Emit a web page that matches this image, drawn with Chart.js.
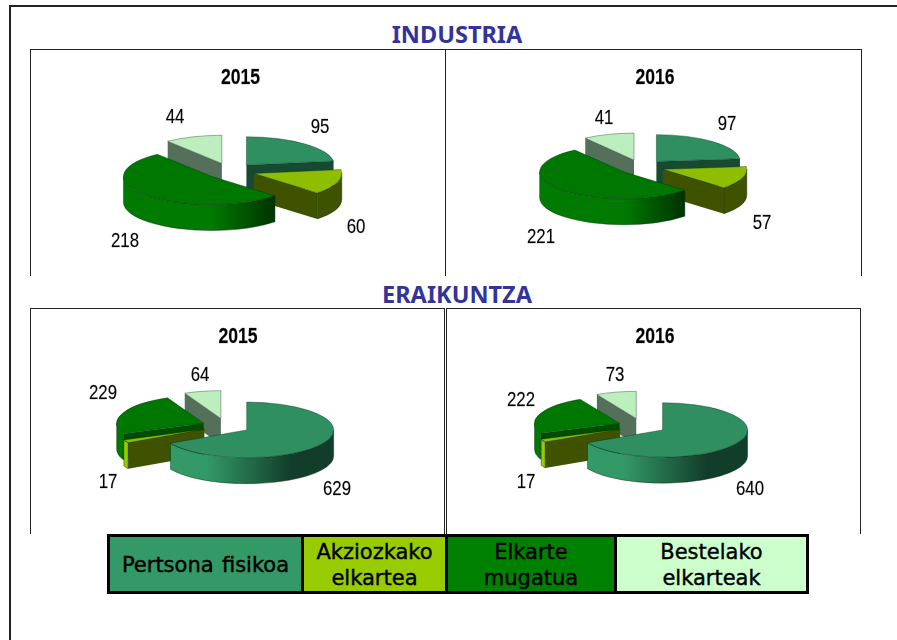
<!DOCTYPE html>
<html lang="eu">
  <head>
    <meta charset="UTF-8" />
    <title>Industria eta eraikuntza</title>
    <script src="https://cdn.jsdelivr.net/npm/chart.js@4.4.1/dist/chart.umd.min.js"></script>
    <style>
      html, body { margin: 0; padding: 0; background: #fff; }
      body { width: 897px; height: 640px; position: relative; overflow: hidden; }
      .frame { position: absolute; left: 9px; top: 5px; width: 900px; height: 700px; border: 2px solid #222; }
      .panel { position: absolute; border: 1px solid #222; border-bottom: 0; box-sizing: border-box; }
      .heading { position: absolute; left: 0; width: 914px; text-align: center; color: #333399; font: bold 23.5px "Noto Sans", sans-serif; line-height: 30px; }
      canvas { position: absolute; }
      table.legend { position: absolute; left: 107px; top: 534px; width: 699px; height: 58px; border-collapse: collapse; table-layout: fixed; }
      table.legend td { box-sizing: border-box; border: 3px solid #000; text-align: center; padding: 2px 0 0; font: 21px/26px "DejaVu Sans", sans-serif; color: #000; -webkit-text-stroke: 0.4px #000; }
    </style>
  </head>
  <body>
    <div class="frame"></div>
    <div class="heading" style="top: 19px">INDUSTRIA</div>
    <div class="heading" style="top: 279px">ERAIKUNTZA</div>
    <div class="panel" style="left: 30px; top: 49px; width: 416px; height: 227px"></div>
    <div class="panel" style="left: 445px; top: 49px; width: 417px; height: 227px"></div>
    <div class="panel" style="left: 30px; top: 308px; width: 415px; height: 226px"></div>
    <div class="panel" style="left: 446px; top: 308px; width: 415px; height: 226px"></div>
    <canvas id="ind2015" width="400" height="240"></canvas>
    <canvas id="ind2016" width="400" height="240"></canvas>
    <canvas id="era2015" width="400" height="240"></canvas>
    <canvas id="era2016" width="400" height="240"></canvas>
    <table class="legend" id="legend"><tr></tr></table>

    <script>
      //data
      const categories = ['Pertsona fisikoa', 'Akziozkako elkartea', 'Elkarte mugatua', 'Bestelako elkarteak'];
      const legendLabels = ['Pertsona&nbsp;&nbsp;fisikoa', 'Akziozkako<br>elkartea', 'Elkarte<br>mugatua', 'Bestelako<br>elkarteak'];
      const industria2015 = [95, 60, 218, 44];
      const industria2016 = [97, 57, 221, 41];
      const eraikuntza2015 = [629, 17, 229, 64];
      const eraikuntza2016 = [640, 17, 222, 73];

      //colors
      const legendColors = ['#339966', '#99cc00', '#008000', '#ccffcc'];
      const topColors = ['#2f8f60', '#8fbe00', '#007700', '#bdeebd'];
      const faceColors = ['#174a33', '#3f5200', '#004d00', '#55705a'];
      const rimLeftColors = ['#339966', '#99cc00', '#007a00', '#99cc99'];
      const rimRightColors = ['#123d2a', '#3f5200', '#003300', '#55705a'];
      const rimStart = [0.27, 0.3, 0.5, 0.3];
      const rimEnd = [0.76, 0.85, 0.86, 0.85];

      const SQUASH = 0.32;
      const DEPTH = 26;

      //the pie is drawn by the arc elements, only squashed, with the walls added under them
      const pie3d = {
        id: 'pie3d',
        beforeDatasetDraw(chart, args, opts) {
          const ctx = chart.ctx;
          const arcs = chart.getDatasetMeta(args.index).data.slice();
          const mid = (a) => (a.startAngle + a.endAngle) / 2;
          arcs.sort((a, b) => Math.sin(mid(a)) - Math.sin(mid(b)));

          arcs.forEach((arc) => {
            const i = arc.$context.dataIndex;
            const off = opts.explode;
            const R = arc.outerRadius;
            const cx = arc.x + Math.cos(mid(arc)) * off;
            const cy = arc.y + Math.sin(mid(arc)) * off * SQUASH;

            const face = (angle) => {
              const ex = cx + Math.cos(angle) * R;
              const ey = cy + Math.sin(angle) * R * SQUASH;
              ctx.beginPath();
              ctx.moveTo(cx, cy);
              ctx.lineTo(ex, ey);
              ctx.lineTo(ex, ey + DEPTH);
              ctx.lineTo(cx, cy + DEPTH);
              ctx.closePath();
              ctx.fillStyle = faceColors[i];
              ctx.fill();
            };
            if (Math.cos(arc.startAngle) < 0) face(arc.startAngle);
            if (Math.cos(arc.endAngle) > 0) face(arc.endAngle);

            const from = Math.max(arc.startAngle, 0);
            const to = Math.min(arc.endAngle, Math.PI);
            if (to > from) {
              const grad = ctx.createLinearGradient(cx - R, 0, cx + R, 0);
              grad.addColorStop(0, rimLeftColors[i]);
              grad.addColorStop(rimStart[i], rimLeftColors[i]);
              grad.addColorStop(rimEnd[i], rimRightColors[i]);
              grad.addColorStop(1, rimRightColors[i]);
              ctx.beginPath();
              ctx.ellipse(cx, cy, R, R * SQUASH, 0, from, to);
              ctx.ellipse(cx, cy + DEPTH, R, R * SQUASH, 0, to, from, true);
              ctx.closePath();
              ctx.fillStyle = grad;
              ctx.fill();
              ctx.strokeStyle = 'rgba(0,40,20,0.6)';
              ctx.lineWidth = 0.7;
              ctx.stroke();
            }

            ctx.save();
            ctx.translate(cx, cy);
            ctx.scale(1, SQUASH);
            ctx.translate(-arc.x, -arc.y);
            arc.draw(ctx);
            ctx.restore();
          });

          //narrow tall text, as in the picture
          const text = (str, x, y, font) => {
            ctx.save();
            ctx.translate(x, y);
            ctx.scale(0.8, 1);
            ctx.font = font;
            ctx.fillStyle = '#000';
            ctx.strokeStyle = 'rgba(0,0,0,0.5)';
            ctx.lineWidth = 0.3;
            ctx.textAlign = 'center';
            ctx.textBaseline = 'middle';
            ctx.fillText(str, 0, 0);
            ctx.strokeText(str, 0, 0);
            ctx.restore();
          };
          const c = chart.getDatasetMeta(args.index).data[0];
          text(opts.year, c.x + opts.yearShift[0], c.y + opts.yearShift[1], 'bold 22px "Liberation Sans"');
          chart.data.datasets[args.index].data.forEach((v, i) => {
            text(String(v), c.x + opts.labelX[i], c.y + opts.labelY[i], '21px "Liberation Sans"');
          });
          return false;
        }
      };

      //config
      function makePie(id, values, year, centerX, centerY, radius, explode, yearShift, labelX, labelY) {
        const canvas = document.getElementById(id);
        canvas.style.left = centerX - 200 + 'px';
        canvas.style.top = centerY - 120 + 'px';
        return new Chart(canvas, {
          type: 'pie',
          data: {
            labels: categories,
            datasets: [{
              data: values,
              backgroundColor: topColors,
              borderColor: 'rgba(0,40,20,0.55)',
              borderWidth: 1
            }]
          },
          options: {
            responsive: false,
            animation: false,
            radius: radius,
            layout: { padding: 0 },
            events: [],
            plugins: {
              legend: { display: false },
              tooltip: { enabled: false },
              pie3d: { year, explode, yearShift, labelX, labelY }
            }
          },
          plugins: [pie3d]
        });
      }

      makePie('ind2015', industria2015, '2015', 229.5, 171, 88, 25, [10.5, -93], [90, 126, -105, -55], [-44, 56, 70, -54]);
      makePie('ind2016', industria2016, '2016', 641, 167, 84, 23, [14, -89], [86, 121, -100, -37], [-43, 56, 70, -49]);
      makePie('era2015', eraikuntza2015, '2015', 226, 426, 87, 24, [12, -89], [111, -118, -123, -26], [63, 56, -33, -51]);
      makePie('era2016', eraikuntza2016, '2016', 642, 426, 85, 24, [13, -89], [108, -116, -121, -27], [63, 56, -26, -51]);

      //legend row
      const row = document.querySelector('#legend tr');
      const legendWidths = [194, 144, 169, 192];
      legendLabels.forEach((label, i) => {
        const td = document.createElement('td');
        td.innerHTML = label;
        td.style.background = legendColors[i];
        td.style.width = legendWidths[i] + 'px';
        if (i === 0) td.style.wordSpacing = '-2.5px';
        row.appendChild(td);
      });
    </script>
  </body>
</html>
